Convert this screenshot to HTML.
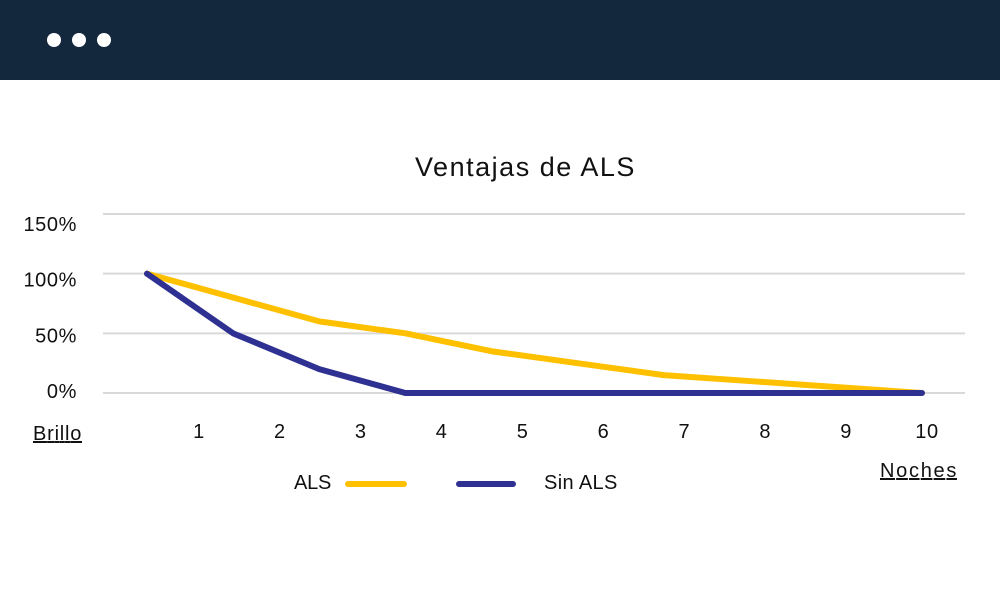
<!DOCTYPE html>
<html><head><meta charset="utf-8"><style>
body{margin:0;width:1000px;height:600px;background:#fff;overflow:hidden;font-family:"Liberation Sans",sans-serif}
text{letter-spacing:0.6px}
</style></head><body>
<svg width="1000" height="600" xmlns="http://www.w3.org/2000/svg">
<rect x="0" y="0" width="1000" height="80" fill="#13273d"/>
<circle cx="54" cy="40" r="7" fill="#fff"/>
<circle cx="79" cy="40" r="7" fill="#fff"/>
<circle cx="104" cy="40" r="7" fill="#fff"/>
<text x="525" y="176" text-anchor="middle" font-size="27" fill="#111" textLength="220">Ventajas de ALS</text>
<g id="grid"></g><g id="ylab"></g><g id="xlab"></g><g id="lines"></g>
<text x="33" y="440" font-size="20" fill="#111" text-decoration="underline" textLength="49">Brillo</text>
<text x="880" y="477" font-size="20" fill="#111" text-decoration="underline" textLength="77">Noches</text>
<g>
<text x="294" y="489" font-size="20" fill="#111" textLength="38">ALS</text>
<line x1="348" y1="484" x2="404" y2="484" stroke="#ffc000" stroke-width="6" stroke-linecap="round"/></g>
<g>
<line x1="459" y1="484" x2="513" y2="484" stroke="#2e3192" stroke-width="6" stroke-linecap="round"/>
<text x="544" y="489" font-size="20" fill="#111" textLength="74">Sin ALS</text></g>
</svg>
<script>
const yTicks=[0,50,100,150];
const yTickLabels=["0%","50%","100%","150%"];
const xTickLabels=["1","2","3","4","5","6","7","8","9","10"];
const alsValues=[100,80,60,50,35,25,15,10,5,0];
const sinAlsValues=[100,50,20,0,0,0,0,0,0,0];
const NS="http://www.w3.org/2000/svg";
const y=v=>393-v*(393-214)/150;
const x=i=>147+i*(922-147)/(alsValues.length-1);
const xl=i=>199+i*(927-199)/(xTickLabels.length-1);
function mk(t,a,p){const e=document.createElementNS(NS,t);for(const k in a)e.setAttribute(k,a[k]);document.getElementById(p).appendChild(e);return e;}
yTicks.forEach((v,i)=>{
 const g=mk('line',{x1:103,x2:965,y1:y(v),y2:y(v),stroke:'#d9d9d9','stroke-width':2},'grid');
 
 
 const t=mk('text',{x:77,y:y(v)+5+v/150*12,'text-anchor':'end','font-size':20,fill:'#111'},'ylab');
 t.textContent=yTickLabels[i];
 
 
});
xTickLabels.forEach((l,i)=>{
 const t=mk('text',{x:xl(i),y:438,'text-anchor':'middle','font-size':20,fill:'#111'},'xlab');
 t.textContent=l;
 
 
});
function line(vals,col,name){
 const p=mk('polyline',{points:vals.map((v,i)=>x(i)+','+y(v)).join(' '),fill:'none',stroke:col,'stroke-width':6,'stroke-linejoin':'round','stroke-linecap':'round'},'lines');
 
 
}
line(alsValues,'#ffc000','series-als');
line(sinAlsValues,'#2e3192','series-sin-als');
</script>
</body></html>
